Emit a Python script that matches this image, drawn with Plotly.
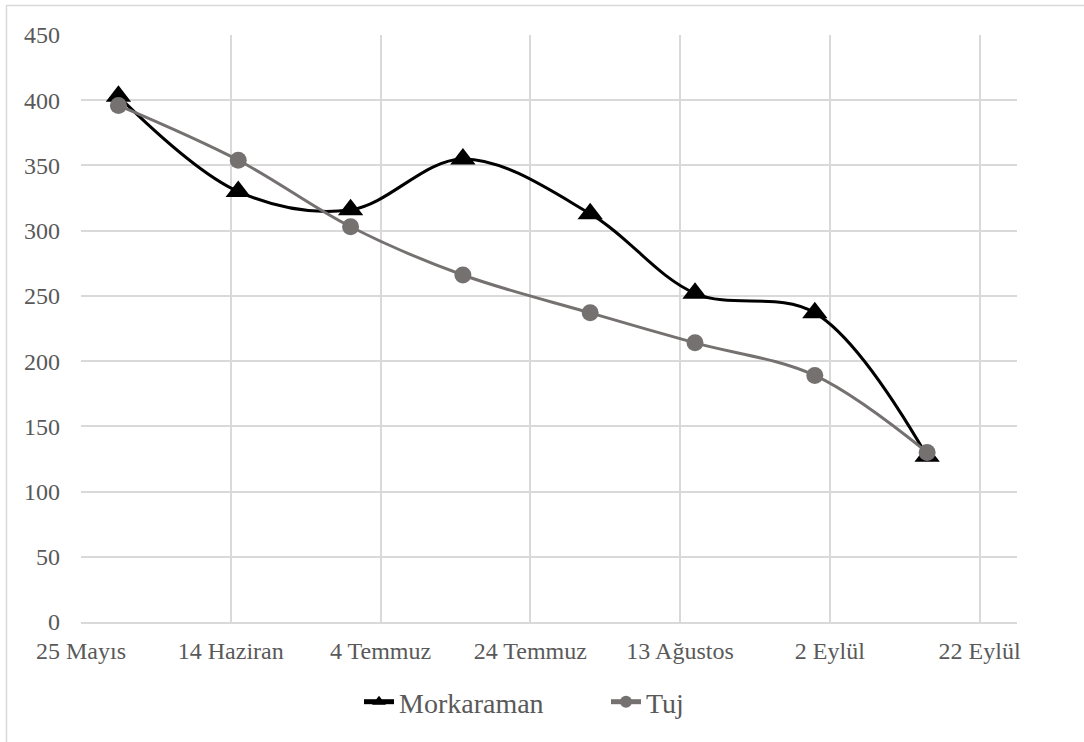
import plotly.graph_objects as go

# Measurement dates and values
dates = ["2017-05-30", "2017-06-15", "2017-06-30", "2017-07-15",
         "2017-08-01", "2017-08-15", "2017-08-31", "2017-09-15"]
morkaraman = [403, 330, 316, 355, 313, 252, 237, 127]
tuj = [396, 354, 303, 266, 237, 214, 189, 130]

# Axis ticks
tick_dates = ["2017-05-25", "2017-06-14", "2017-07-04", "2017-07-24",
              "2017-08-13", "2017-09-02", "2017-09-22"]
tick_labels = ["25 Mayıs", "14 Haziran", "4 Temmuz", "24 Temmuz",
               "13 Ağustos", "2 Eylül", "22 Eylül"]
y_ticks = [0, 50, 100, 150, 200, 250, 300, 350, 400, 450]

FONT = "Liberation Serif"
TEXT = "#595959"
GRID = "#d9d9d9"

fig = go.Figure()
fig.add_trace(go.Scatter(
    x=dates, y=morkaraman, name="Morkaraman", mode="lines+markers",
    line=dict(color="#000000", width=3, shape="spline", smoothing=1),
    marker=dict(symbol="triangle-up", size=22, color="#000000"),
))
fig.add_trace(go.Scatter(
    x=dates, y=tuj, name="Tuj", mode="lines+markers",
    line=dict(color="#767171", width=3, shape="spline", smoothing=1),
    marker=dict(symbol="circle", size=17, color="#767171"),
))

L, R, T, B = 81, 67, 35, 120
W, H = 1084, 742
pw, ph = W - L - R, H - T - B

def px_x(px):
    return (px - L) / pw

def px_y(py):
    return (H - B - py) / ph

# Outer chart-area border
fig.add_shape(type="rect", xref="paper", yref="paper",
              x0=px_x(6.5), x1=px_x(1200), y0=px_y(900), y1=px_y(5.5),
              line=dict(color="#d9d9d9", width=1.5), fillcolor="rgba(0,0,0,0)",
              layer="below")

fig.update_layout(
    width=W, height=H,
    margin=dict(l=L, r=R, t=T, b=B),
    paper_bgcolor="white", plot_bgcolor="white",
    font=dict(family=FONT, color=TEXT, size=24),
    showlegend=True,
    legend=dict(orientation="h", x=px_x(606), xanchor="center",
                y=px_y(702), yanchor="middle",
                font=dict(family=FONT, size=28, color=TEXT),
                itemsizing="constant", entrywidth=202, entrywidthmode="pixels",
                bgcolor="rgba(0,0,0,0)"),
    xaxis=dict(
        type="date", range=["2017-05-25", "2017-09-27"],
        tickmode="array", tickvals=tick_dates, ticktext=tick_labels,
        showgrid=True, gridcolor=GRID, gridwidth=1.5,
        showline=True, linecolor=GRID, linewidth=2,
        zeroline=False, ticks="", ticklabelstandoff=6,
        tickfont=dict(family=FONT, size=24, color=TEXT),
    ),
    yaxis=dict(
        range=[0, 450], tickmode="array", tickvals=y_ticks,
        showgrid=True, gridcolor=GRID, gridwidth=1.5,
        showline=False, zeroline=False, ticks="", ticklabelstandoff=20,
        tickfont=dict(family=FONT, size=24, color=TEXT),
    ),
)

fig.write_html("out.html")
